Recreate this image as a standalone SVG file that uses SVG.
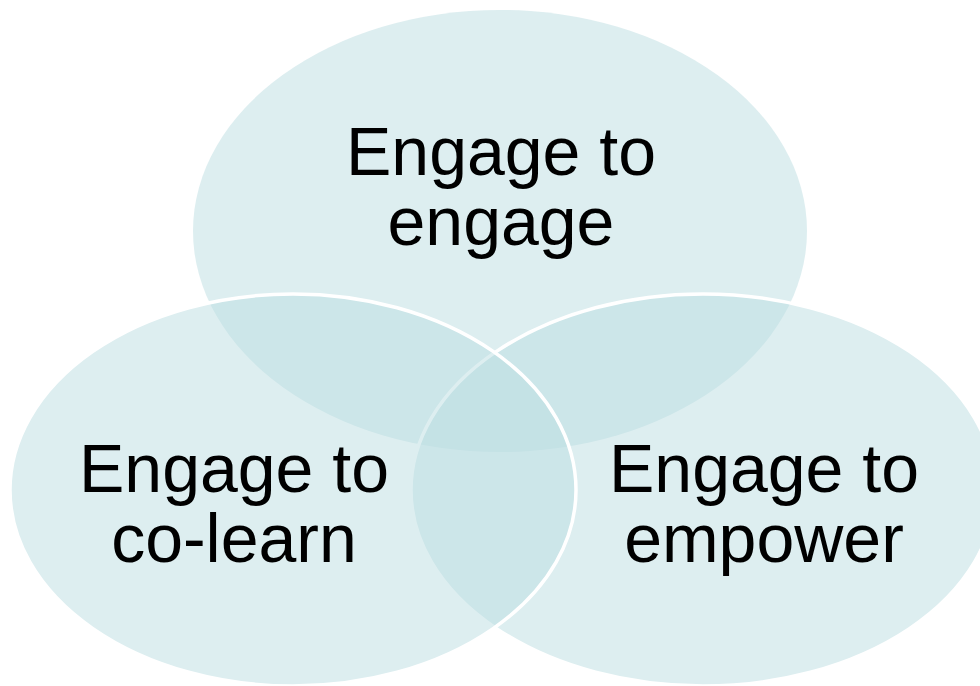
<svg xmlns="http://www.w3.org/2000/svg" width="980" height="686" viewBox="0 0 980 686">
<style>
.c{fill:#BBDDE2;fill-opacity:0.5}
.s{stroke:#FFFFFF;stroke-width:3.5}
.t{font-family:"Liberation Sans",Arial,sans-serif;font-size:68px;fill:#000000;text-anchor:middle}
</style>
<rect width="980" height="686" fill="#FFFFFF"/>
<g id="engage">
<ellipse class="c" cx="500" cy="231" rx="307" ry="221"/>
<text class="t" x="501" y="175">Engage to</text>
<text class="t" x="501" y="245">engage</text>
</g>
<g id="empower">
<ellipse class="c s" cx="703" cy="490" rx="292" ry="196"/>
<text class="t" x="764" y="492">Engage to</text>
<text class="t" x="764" y="562">empower</text>
</g>
<g id="colearn">
<ellipse class="c s" cx="293" cy="490" rx="283" ry="196"/>
<text class="t" x="234" y="492">Engage to</text>
<text class="t" x="234" y="562">co-learn</text>
</g>
<g id="connectors"/>
</svg>
